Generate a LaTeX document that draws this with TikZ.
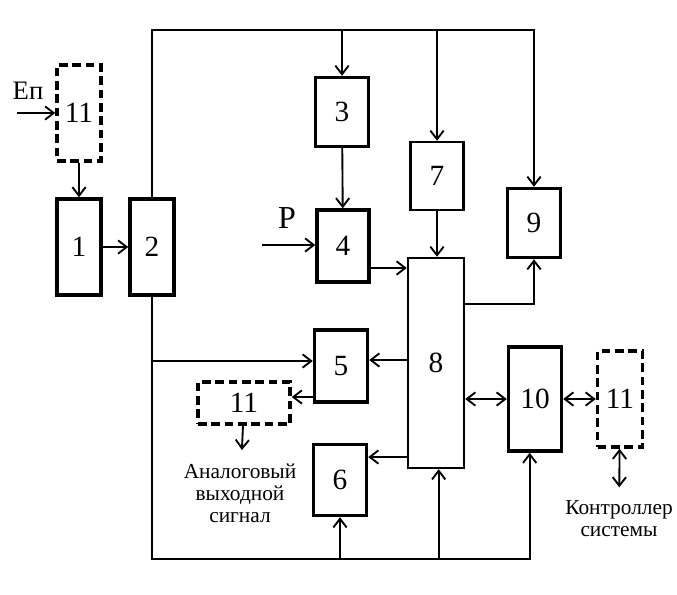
\documentclass[tikz,border=0pt]{standalone}
\usepackage{fontspec}
\setmainfont{Liberation Serif}
\usetikzlibrary{arrows.meta, positioning}

\begin{document}
\begin{tikzpicture}[
  x=0.75pt, y=-0.75pt,
  sz/.style 2 args = {minimum width=#1*0.75pt, minimum height=#2*0.75pt},
  blk/.style    = {rectangle, draw, line width=2.6pt, inner sep=0pt,
                   font=\fontsize{22}{24}\selectfont},
  thinblk/.style= {blk, line width=1.8pt},
  optblk/.style = {blk, dash pattern=on 6.5pt off 3.5pt},
  arrow/.style  = {-{Straight Barb[length=6.5pt, width=10pt]}, line width=1.4pt},
  dblarrow/.style = {{Straight Barb[length=6.5pt, width=10pt]}-{Straight Barb[length=6.5pt, width=10pt]},
                   line width=1.4pt},
  lbl/.style    = {font=\fontsize{16}{16.5}\selectfont, align=center, inner sep=1pt},
  inlbl/.style  = {lbl, font=\fontsize{20}{22}\selectfont},
]
\useasboundingbox (0,0) rectangle (677,594);

%% --- Input side ---
\node[optblk, sz={44}{96}] (in11) at (79,113)  {11};
\node[blk,    sz={44}{96}] (b1)   at (79,247)  {1};
\node[blk,    sz={44}{96}] (b2)   at (152,247) {2};

%% --- Middle column ---
\node[blk, sz={53}{69}] (b3) at (342,112) {3};
\node[blk, sz={52}{72}] (b4) at (343,246) {4};
\node[blk, sz={53}{72}] (b5) at (341,366) {5};
\node[blk, sz={53}{71}] (b6) at (340,480) {6};

%% --- Processing unit ---
\node[thinblk, sz={53}{68}]  (b7) at (437,176) {7};
\node[thinblk, sz={56}{210}] (b8) at (436,363) {8};

%% --- Right column ---
\node[blk,    sz={53}{69}]  (b9)    at (534,223) {9};
\node[blk,    sz={53}{104}] (b10)   at (535,399) {10};
\node[optblk, sz={45}{96}]  (out11) at (620,399) {11};
\node[optblk, sz={92}{42}]  (an11)  at (244,403) {11};

%% --- Labels ---
\coordinate (epin) at (17,113);
\coordinate (pin)  at (262,245);
\node[inlbl] (ep) at (28,91)  {Еп};
\node[inlbl, font=\fontsize{24}{26}\selectfont] (p) at (287,218) {Р};
\node[lbl, inner ysep=10pt] (analog) at (240,493) {Аналоговый\\выходной\\сигнал};
\node[lbl, inner ysep=10pt] (ctrl)   at (619,519) {Контроллер\\системы};

%% --- Bus lines ---
\coordinate (top) at (0,30);
\coordinate (bot) at (0,559);

%% --- Arrows input side ---
\draw[arrow] (epin) -- (in11.west |- epin);
\draw[arrow] (in11) -- (b1);
\draw[arrow] (b1)   -- (b2);

%% --- Upper bus ---
\draw[arrow] (b2.north) |- (b9.north |- top) -- (b9.north);
\draw[arrow] (b3.north |- top) -- (b3.north);
\draw[arrow] (b7.north |- top) -- (b7.north);

%% --- Middle ---
\draw[arrow] (b3) -- (b4);
\draw[arrow] (pin) -- (b4.west |- pin);
\draw[arrow] (b4.east |- 0,268) -- (b8.west |- 0,268);
\draw[arrow] (b7.south) -- (b7.south |- b8.north);
\draw[arrow] (b8.east |- 0,304) -| (b9.south);
\draw[arrow] (b8.west |- 0,360) -- (b5.east |- 0,360);
\draw[arrow] (b8.west |- 0,457) -- (b6.east |- 0,457);
\draw[arrow] (b5.west |- 0,397) -- (an11.east |- 0,397);
\draw[arrow] (an11) -- (analog);

%% --- Lower bus ---
\draw[arrow] (b2.south) |- ([xshift=-4pt]b10.south |- bot) -- ([xshift=-4pt]b10.south);
\draw[arrow] (b2.south |- 0,361) -- (b5.west |- 0,361);
\draw[arrow] (b6.south |- bot) -- (b6.south);
\draw[arrow] ([xshift=2pt]b8.south |- bot) -- ([xshift=2pt]b8.south);

%% --- Exchange ---
\draw[dblarrow] (b8.east |- b10.west) -- (b10.west);
\draw[dblarrow] (b10) -- (out11);
\draw[dblarrow] (out11) -- (ctrl);

\end{tikzpicture}
\end{document}
